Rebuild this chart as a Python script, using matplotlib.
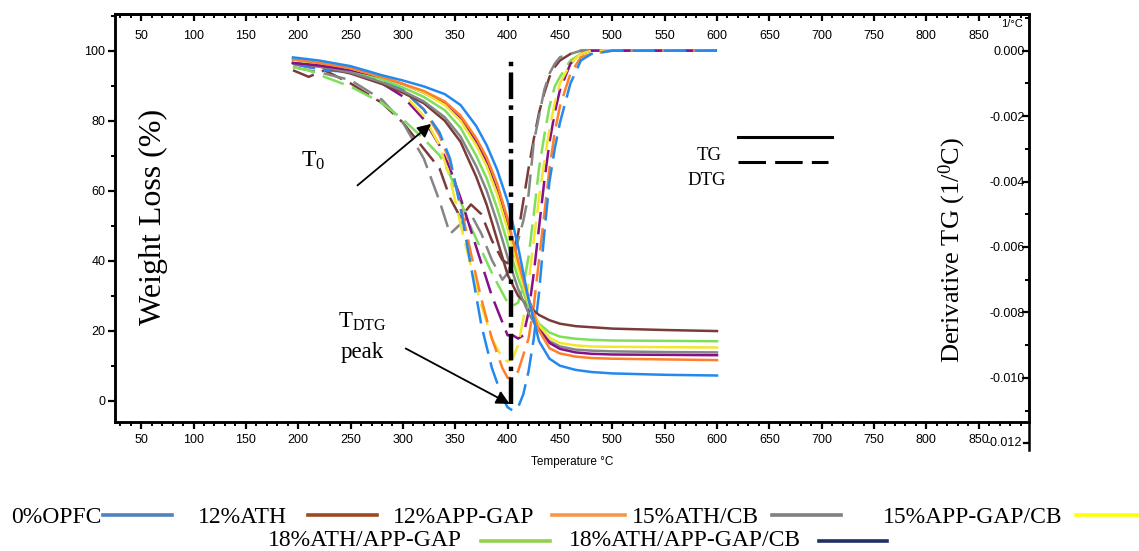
import matplotlib.pyplot as plt
from matplotlib.lines import Line2D
from matplotlib.ticker import MultipleLocator

plt.rcParams['font.family'] = ['Liberation Sans', 'DejaVu Sans']
SERIF = ['Liberation Serif', 'DejaVu Serif']

W, H = 1139, 551

# ---- data ----
series_names = ["0%OPFC", "12%ATH", "12%APP-GAP", "15%ATH/CB",
                "15%APP-GAP/CB", "18%ATH/APP-GAP", "18%ATH/APP-GAP/CB"]

# TG: weight (%) vs temperature (deg C)
tg_temp = [195, 220, 250, 280, 300, 320, 340, 355, 370, 380, 390, 400, 410,
           420, 430, 440, 450, 465, 480, 500, 550, 600]
tg_opfc = [98.1, 97.2, 95.6, 93.0, 91.5, 89.8, 87.6, 84.5, 78.5, 73.0, 66.0, 57.0,
           44.0, 29.0, 17.0, 12.0, 10.0, 8.8, 8.2, 7.8, 7.4, 7.2]
tg_ath12 = [96.5, 95.5, 93.5, 90.5, 88.0, 85.0, 80.0, 74.0, 64.0, 56.0, 46.0, 36.0,
            30.0, 27.0, 24.5, 23.0, 22.0, 21.3, 21.0, 20.6, 20.2, 19.9]
tg_appgap12 = [97.5, 96.5, 95.0, 92.5, 90.5, 88.5, 85.5, 81.5, 75.0, 69.5, 62.0, 52.0,
               40.0, 29.0, 20.0, 15.0, 13.5, 12.6, 12.2, 12.0, 11.8, 11.6]
tg_athcb15 = [96.5, 95.5, 93.8, 91.0, 88.5, 85.5, 81.0, 75.5, 67.0, 60.0, 51.0, 41.0,
              32.0, 25.0, 20.0, 17.0, 15.5, 14.6, 14.3, 14.1, 13.9, 13.8]
tg_appgapcb15 = [97.8, 96.8, 95.0, 92.5, 90.5, 88.0, 84.5, 80.0, 73.0, 67.0, 59.0, 49.0,
                 38.0, 28.0, 21.5, 18.0, 16.5, 15.8, 15.5, 15.4, 15.3, 15.2]
tg_athapp18 = [97.5, 96.5, 94.5, 91.8, 89.5, 86.8, 83.0, 78.0, 70.0, 63.5, 55.0, 45.0,
               35.0, 27.0, 22.0, 19.5, 18.3, 17.7, 17.4, 17.2, 17.1, 17.0]
tg_athappcb18 = [96.5, 95.8, 94.5, 92.5, 90.5, 88.0, 84.8, 80.5, 74.0, 68.0, 60.0, 50.0,
                 39.0, 29.0, 21.0, 16.5, 14.8, 13.8, 13.4, 13.2, 13.1, 13.0]

# DTG: derivative (1/deg C) vs temperature (deg C)
dtg_temp = [195, 210, 225, 250, 280, 300, 320, 335, 345, 355, 365, 375, 385, 395,
            400, 405, 410, 415, 420, 425, 430, 435, 440, 445, 450, 460, 470, 480,
            500, 550, 600]
dtg_opfc = [-0.0004, -0.0005, -0.0006, -0.00065, -0.0009, -0.0012, -0.0018, -0.0025,
            -0.0033, -0.0048, -0.0066, -0.0084, -0.0097, -0.0106, -0.0109, -0.0110,
            -0.0109, -0.0105, -0.0098, -0.0088, -0.0074, -0.0056, -0.0040, -0.0030,
            -0.0022, -0.0010, -0.0003, -0.0001, 0.0, 0.0, 0.0]
dtg_ath12 = [-0.0006, -0.0008, -0.0006, -0.0010, -0.0016, -0.0022, -0.0030, -0.0036,
             -0.0045, -0.0051, -0.0047, -0.0050, -0.0058, -0.0064, -0.0065, -0.0062,
             -0.0056, -0.0046, -0.0036, -0.0027, -0.0019, -0.0013, -0.0008, -0.0005,
             -0.0003, -0.0001, 0.0, 0.0, 0.0, 0.0, 0.0]
dtg_appgap12 = [-0.0004, -0.0005, -0.0005, -0.0006, -0.0009, -0.0012, -0.0018, -0.0026,
                -0.0034, -0.0047, -0.0062, -0.0076, -0.0088, -0.0097, -0.0100, -0.0100,
                -0.0098, -0.0093, -0.0088, -0.0078, -0.0064, -0.0050, -0.0036, -0.0025,
                -0.0017, -0.0007, -0.0002, -0.0001, 0.0, 0.0, 0.0]
dtg_athcb15 = [-0.0005, -0.0006, -0.0007, -0.0009, -0.0015, -0.0022, -0.0033, -0.0046,
               -0.0056, -0.0053, -0.0050, -0.0056, -0.0064, -0.0070, -0.0068, -0.0064,
               -0.0058, -0.0052, -0.0044, -0.0028, -0.0020, -0.0012, -0.0007, -0.0004,
               -0.0002, -0.0001, 0.0, 0.0, 0.0, 0.0, 0.0]
dtg_appgapcb15 = [-0.0004, -0.0004, -0.0005, -0.0006, -0.0009, -0.0013, -0.0020, -0.0029,
                  -0.0039, -0.0053, -0.0066, -0.0078, -0.0088, -0.0094, -0.0095, -0.0094,
                  -0.0090, -0.0082, -0.0071, -0.0058, -0.0045, -0.0034, -0.0024, -0.0016,
                  -0.0010, -0.0004, -0.0001, 0.0, 0.0, 0.0, 0.0]
dtg_athapp18 = [-0.0005, -0.0006, -0.0008, -0.0011, -0.0016, -0.0021, -0.0027, -0.0032,
                -0.0038, -0.0046, -0.0054, -0.0061, -0.0068, -0.0074, -0.0077, -0.0078,
                -0.0077, -0.0072, -0.0063, -0.0050, -0.0036, -0.0026, -0.0017, -0.0011,
                -0.0008, -0.0003, -0.0001, 0.0, 0.0, 0.0, 0.0]
dtg_athappcb18 = [-0.0004, -0.0005, -0.0005, -0.0006, -0.0010, -0.0014, -0.0021, -0.0029,
                  -0.0036, -0.0045, -0.0055, -0.0065, -0.0075, -0.0083, -0.0087, -0.0087,
                  -0.0088, -0.0087, -0.0080, -0.0068, -0.0054, -0.0040, -0.0028, -0.0019,
                  -0.0012, -0.0004, -0.0001, 0.0, 0.0, 0.0, 0.0]

peak_temp = 403
peak_line_range = (-1.0, 97.8)

x_ticks = list(range(50, 851, 50))
y_ticks = [0, 20, 40, 60, 80, 100]
dtg_ticks = [0.0, -0.002, -0.004, -0.006, -0.008, -0.010]

# ---- styles ----
plot_colors = ['#2389ee', '#7a3b3b', '#ff7f2a', '#858585', '#f2e62e', '#7ddf5a', '#86108a']
legend_colors = ['#4f81bd', '#9c4a1e', '#f79646', '#808080', '#ffff00', '#92d050', '#1f2f66']
draw_order = [1, 3, 5, 6, 4, 2, 0]
TICK_FS = 9

tg_series = [tg_opfc, tg_ath12, tg_appgap12, tg_athcb15, tg_appgapcb15, tg_athapp18, tg_athappcb18]
dtg_series = [dtg_opfc, dtg_ath12, dtg_appgap12, dtg_athcb15, dtg_appgapcb15, dtg_athapp18, dtg_athappcb18]

fig = plt.figure(figsize=(W / 100, H / 100), dpi=100)
ax = fig.add_axes([115 / W, 1 - 421.7 / H, (1029 - 115) / W, (421.7 - 14) / H])
ax2 = ax.twinx()
ax.set_zorder(ax2.get_zorder() + 1)
ax.patch.set_visible(False)

for i in draw_order:
    ax2.plot(dtg_temp, dtg_series[i], color=plot_colors[i], lw=1.8,
             linestyle=(0, (9, 3.5)))
for i in draw_order:
    ax.plot(tg_temp, tg_series[i], color=plot_colors[i], lw=1.8)

ax.set_xlim(25, 898)
ax.set_ylim(-6, 110.5)
ax2.set_ylim(-0.01134, 0.00112)

# bottom / left axes
ax.set_xticks(x_ticks)
ax.xaxis.set_minor_locator(MultipleLocator(10))
ax.set_yticks(y_ticks)
ax.yaxis.set_minor_locator(MultipleLocator(10))
ax.tick_params(axis='both', which='major', direction='out', length=5, width=1.6,
               labelsize=TICK_FS, pad=2)
ax.tick_params(axis='both', which='minor', direction='out', length=3, width=1.4)
ax.tick_params(axis='x', pad=4)

# top axis, labels inside
secax = ax.secondary_xaxis('top')
secax.set_xticks(x_ticks)
secax.xaxis.set_minor_locator(MultipleLocator(10))
secax.tick_params(which='major', direction='in', length=5, width=1.6, labelsize=TICK_FS, pad=-20)
secax.tick_params(which='minor', direction='in', length=3, width=1.4)

# right axis, labels inside
ax2.set_yticks(dtg_ticks, labels=[f'{v:.3f}' for v in dtg_ticks])
ax2.yaxis.set_minor_locator(MultipleLocator(0.001))
ax2.tick_params(axis='y', which='major', direction='in', length=5, width=1.6,
                labelsize=TICK_FS, pad=-3)
ax2.tick_params(axis='y', which='minor', direction='in', length=3, width=1.4)
plt.setp(ax2.get_yticklabels(), ha='right')

for a in (ax, ax2, secax):
    for sp in a.spines.values():
        sp.set_linewidth(1.8)

# right spine runs on below the frame down to -0.012
ytr = ax2.get_yaxis_transform()
ax2.plot([1, 1], [-0.01134, -0.0122], transform=ytr, clip_on=False, color='k', lw=1.8)
ax2.plot([1 - 5 / 914, 1], [-0.012, -0.012], transform=ytr, clip_on=False, color='k', lw=1.6)
ax2.text(1 - 7 / 914, -0.012, '-0.012', transform=ytr, ha='right', va='center',
         fontsize=TICK_FS, clip_on=False)

# axis titles
fig.text(153 / W, 1 - 217 / H, 'Weight Loss (%)', rotation=90,
         ha='center', va='center', fontsize=23, family=SERIF)
fig.text(952 / W, 1 - 250 / H, r'Derivative TG (1/$\mathregular{^{0}}$C)', rotation=90,
         ha='center', va='center', fontsize=19, family=SERIF)
fig.text(572 / W, 1 - 462 / H, 'Temperature °C', ha='center', va='center', fontsize=8.5)
fig.text(1012 / W, 1 - 24 / H, '1/°C', ha='center', va='center', fontsize=8)

# peak marker and annotations
ax.vlines(peak_temp, *peak_line_range, color='k', lw=3.2,
          linestyle=(0, (6, 1.4, 1, 1.4)), zorder=5)
ax.annotate('', xy=(329, 79.6), xytext=(254.5, 61),
            arrowprops=dict(arrowstyle='-|>', color='k', lw=1.3, mutation_scale=20))
ax.text(214.5, 68.5, r'$\mathregular{T_{0}}$', ha='center', va='center', fontsize=17, family=SERIF)
ax.annotate('', xy=(404.4, -1.3), xytext=(300.3, 15.3),
            arrowprops=dict(arrowstyle='-|>', color='k', lw=1.3, mutation_scale=20))
ax.text(261, 22.5, r'$\mathregular{T_{DTG}}$', ha='center', va='center', fontsize=16.5, family=SERIF)
ax.text(261, 13.9, 'peak', ha='center', va='center', fontsize=16.5, family=SERIF)

# TG / DTG key
ax.plot([620, 710], [75.3, 75.3], color='k', lw=2.2)
ax.plot([620, 706], [68.2, 68.2], color='k', lw=2.2, linestyle=(0, (9, 3)))
ax.text(592, 70.2, 'TG', ha='center', va='center', fontsize=13.5, family=SERIF)
ax.text(590, 62.8, 'DTG', ha='center', va='center', fontsize=13.5, family=SERIF)

# bottom legend: label then line (text baseline y, line y)
legend_layout = [(0, 11, 103, 172, 523, 515), (1, 198, 308, 377, 523, 515),
                 (2, 393, 552, 625, 523, 515), (3, 632, 772, 841, 523, 515),
                 (4, 883, 1076, 1139, 523, 515),
                 (5, 268, 481, 550, 546.5, 541), (6, 569, 819, 887, 546.5, 541)]
for i, tx, x0, x1, base, ly in legend_layout:
    fig.text(tx / W, 1 - base / H, series_names[i], ha='left', va='baseline',
             fontsize=17, family=SERIF)
    fig.add_artist(Line2D([x0 / W, x1 / W], [1 - ly / H, 1 - ly / H],
                          transform=fig.transFigure, color=legend_colors[i], lw=2.6))

fig.savefig('out.png', dpi=100)
